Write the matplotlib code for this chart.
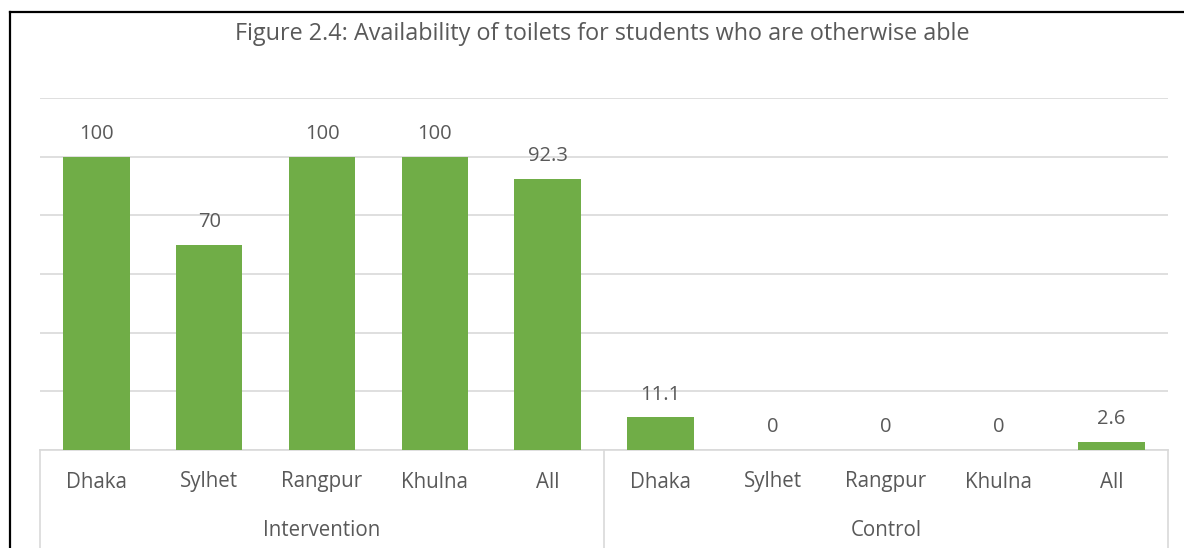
import matplotlib
matplotlib.use("Agg")
import matplotlib.pyplot as plt
from matplotlib.lines import Line2D

title = "Figure 2.4: Availability of toilets for students who are otherwise able"
groups = ["Intervention", "Control"]
categories = ["Dhaka", "Sylhet", "Rangpur", "Khulna", "All"]
intervention_values = [100, 70, 100, 100, 92.3]
control_values = [11.1, 0, 0, 0, 2.6]
intervention_labels = ["100", "70", "100", "100", "92.3"]
control_labels = ["11.1", "0", "0", "0", "2.6"]

plt.rcParams['font.family'] = ['Open Sans', 'DejaVu Sans']
W, H = 1184, 548
fig = plt.figure(figsize=(W / 100, H / 100), dpi=100)
txt = "#595959"
grid_c = "#d9d9d9"
green = "#70ad47"

x0, x1, y0, y1 = 40, 1168, 450, 98
ax = fig.add_axes([x0 / W, 1 - y0 / H, (x1 - x0) / W, (y0 - y1) / H])

values = intervention_values + control_values
labels = intervention_labels + control_labels
xs = list(range(len(values)))
ax.bar(xs, values, width=0.59, color=green, zorder=3)
ax.set_xlim(-0.5, len(values) - 0.5)
ax.set_ylim(0, 120)
ax.set_yticks(range(0, 121, 20))
ax.yaxis.grid(True, color=grid_c, linewidth=1.2, zorder=0)
ax.tick_params(axis='y', length=0, labelleft=False)
ax.tick_params(axis='x', length=0, labelbottom=False)
for s in ["top", "left", "right"]:
    ax.spines[s].set_visible(False)
ax.spines["bottom"].set_color(grid_c)
ax.spines["bottom"].set_linewidth(1.2)

for x, v, lab in zip(xs, values, labels):
    ax.annotate(lab, (x, v), xytext=(0, 16.5), textcoords="offset points",
                ha="center", va="center", fontsize=14.5, color=txt)

# category labels
for i, x in enumerate(xs):
    cat = categories[i % len(categories)]
    ax.text(x, -32 / 352, cat, transform=ax.get_xaxis_transform(),
            ha="center", va="center", fontsize=14.8, color=txt)
n = len(categories)
for g, name in enumerate(groups):
    cx = g * n + (n - 1) / 2
    ax.text(cx, -80 / 352, name, transform=ax.get_xaxis_transform(),
            ha="center", va="center", fontsize=14.8, color=txt)

# separators
for xb in [-0.5, n - 0.5, 2 * n - 0.5]:
    ax.add_line(Line2D([xb, xb], [0, -100 / 352], transform=ax.get_xaxis_transform(),
                       color=grid_c, linewidth=1.2, clip_on=False))

fig.text(602 / W, 1 - 34 / H, title, ha="center", va="center", fontsize=16.8, color=txt)

# outer frame (left and top)
fig.add_artist(Line2D([10 / W, 10 / W], [0, 1 - 12 / H], transform=fig.transFigure,
                      color="black", linewidth=1.6))
fig.add_artist(Line2D([10 / W, 1], [1 - 12 / H, 1 - 12 / H], transform=fig.transFigure,
                      color="black", linewidth=1.6))

fig.savefig("out.png", dpi=100)
